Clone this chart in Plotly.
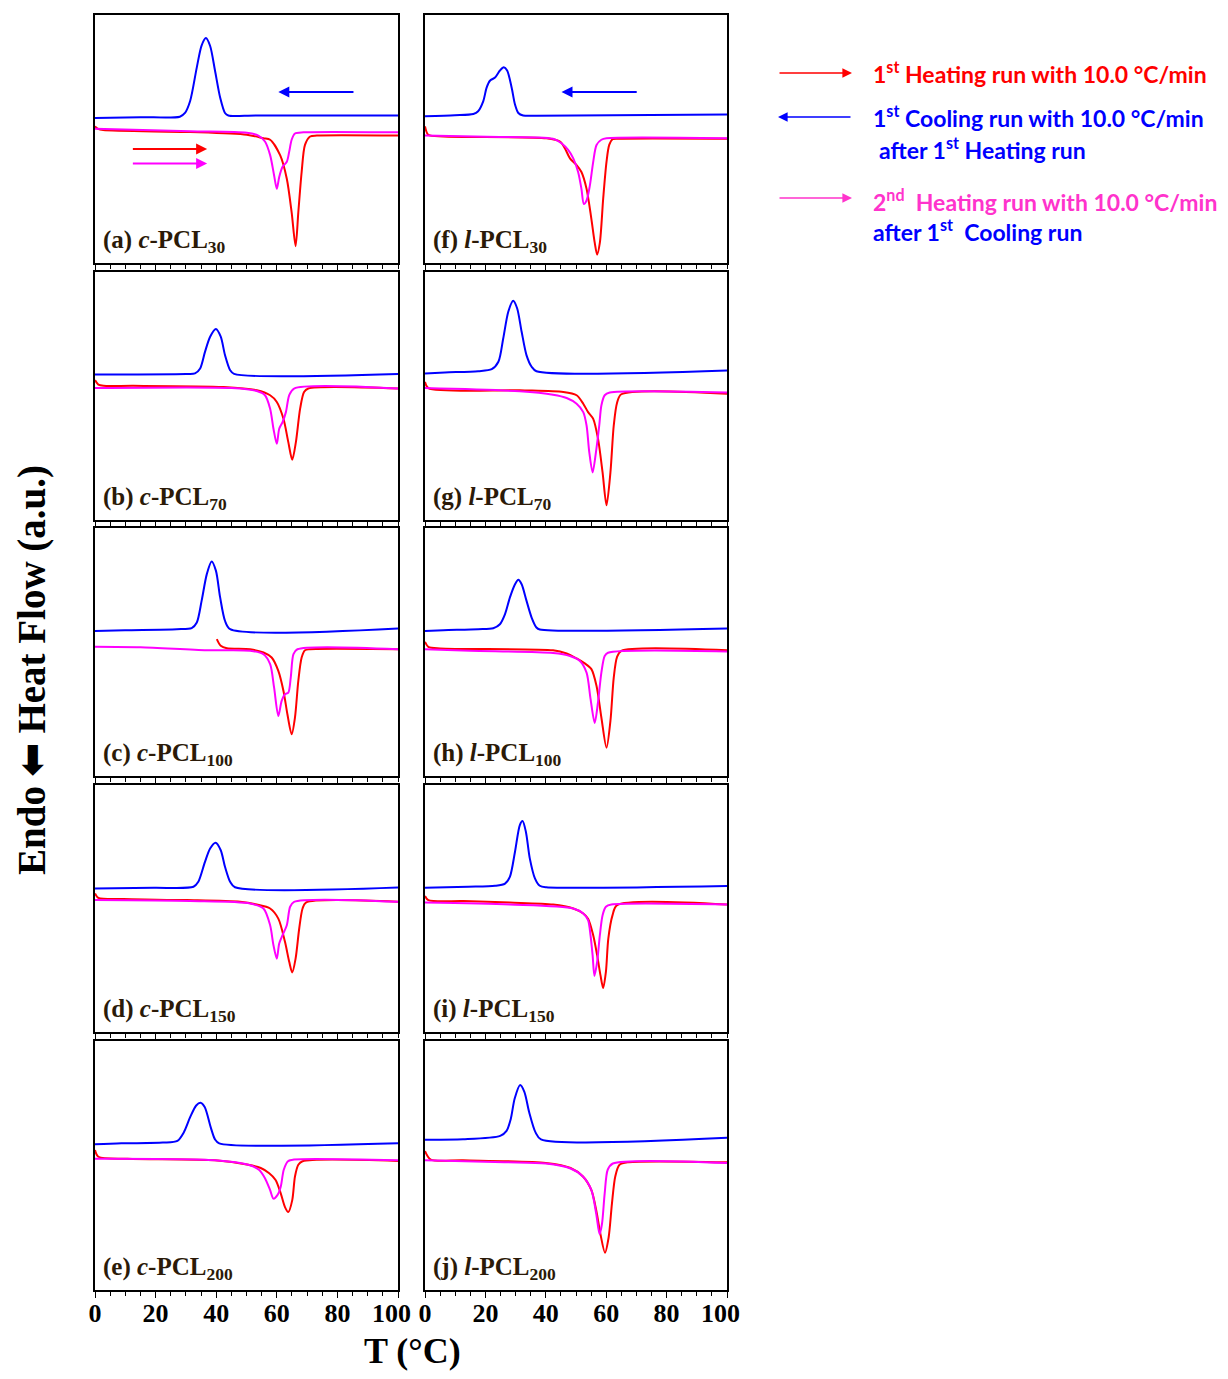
import plotly.graph_objects as go

# page body has an 8px margin; the figure is sized to fit the 1228x1379 window
OFF = 8
W, H = 1228 - 2 * OFF, 1379 - 2 * OFF

# ---------------- data (T in °C, heat flow in arbitrary units) ----------------
T_TICKS = [0, 20, 40, 60, 80, 100]
T_TICK_TEXT = ["0", "20", "40", "60", "80", ""]
T_LAST_LABEL = "100"

LABELS = [
    "(a) <i>c</i>-PCL<sub>30</sub>", "(b) <i>c</i>-PCL<sub>70</sub>",
    "(c) <i>c</i>-PCL<sub>100</sub>", "(d) <i>c</i>-PCL<sub>150</sub>",
    "(e) <i>c</i>-PCL<sub>200</sub>",
    "(f) <i>l</i>-PCL<sub>30</sub>", "(g) <i>l</i>-PCL<sub>70</sub>",
    "(h) <i>l</i>-PCL<sub>100</sub>", "(i) <i>l</i>-PCL<sub>150</sub>",
    "(j) <i>l</i>-PCL<sub>200</sub>",
]

A_COOL_T = [0, 15, 28, 29.7, 31.4, 33.6, 35.2, 36.6, 38, 39.6, 41.3, 42.9, 44, 53, 100]
A_COOL_Q = [58.5, 58.8, 59, 60.5, 65.3, 78.9, 87.8, 90.7, 87.5, 77.6, 66.7, 60.5, 59.5, 59.5, 59.5]
A_H1_T = [0, 1, 2.7, 31.4, 50.1, 55.6, 57.8, 61.1, 63.3, 64.9, 66.2, 67.1, 68.2, 69.3, 71, 73.2, 100]
A_H1_Q = [55.1, 54.1, 53.6, 52.8, 51.7, 50.3, 49.7, 43.5, 34, 20.4, 6.8, 20.4, 36.7, 47.6, 51, 51.4, 51.4]
A_H2_T = [0, 31.4, 50.1, 53.9, 56.1, 57.8, 59.1, 60, 60.8, 61.9, 63.3, 64.1, 64.9, 66, 68.8, 100]
A_H2_Q = [54.1, 53.1, 52.5, 51.4, 49, 43.5, 35.4, 29.9, 34.7, 38.8, 40.8, 44.9, 49.7, 52.2, 52.7, 52.7]

B_COOL_T = [0, 30, 33, 34.7, 36.3, 38, 39.9, 41.5, 42.9, 44.6, 45.9, 100]
B_COOL_Q = [58.7, 58.9, 59.1, 61.1, 67.8, 73.9, 77, 73.9, 66.5, 60.4, 58.9, 58.9]
B_H1_T = [0, 1.1, 2.8, 12.7, 42.4, 53.4, 57.8, 60, 62.2, 63.8, 65.1, 66.3, 67.7, 69, 70.4, 100]
B_H1_Q = [56.4, 54.6, 54.1, 54.1, 53.6, 52.3, 50.3, 47.6, 40.8, 31.4, 24.3, 31.4, 44.9, 51.6, 53, 53]
B_H2_T = [0, 45.1, 53.4, 56.1, 57.8, 58.9, 60, 60.8, 61.9, 63, 64.1, 65.7, 100]
B_H2_Q = [53.2, 53.2, 52, 50.3, 44.9, 36.8, 30.7, 36.8, 39.5, 43.5, 50.3, 53, 53]

C_COOL_T = [0, 9.9, 27, 31.9, 33.6, 35.2, 36.9, 38.5, 39.9, 41.3, 42.9, 44.6, 100]
C_COOL_Q = [58.5, 58.8, 59.2, 59.6, 61.9, 70.7, 81.4, 86.5, 82.8, 72, 62.6, 59.2, 59.5]
C_H1_T = [40.2, 41.5, 43.5, 51.2, 55.6, 58.3, 60.5, 62.2, 63.5, 64.9, 66, 67.1, 68.2, 69.3, 71, 100]
C_H1_Q = [55.2, 52.5, 51.5, 51.1, 49.8, 47.8, 42.4, 34.3, 24.9, 16.8, 23.6, 38.4, 47.8, 50.7, 51.1, 51.1]
C_H2_T = [0, 15, 36.9, 51.2, 55.6, 57.8, 59.1, 60.5, 61.6, 62.7, 63.8, 64.6, 65.5, 66.8, 100]
C_H2_Q = [52.1, 51.9, 50.7, 50.5, 49.1, 45.1, 35.7, 24.2, 30.3, 33, 33.6, 39.7, 49.1, 51.1, 51.1]

D_COOL_T = [0, 19.5, 32.5, 34.1, 36.3, 38, 39.8, 41.5, 42.9, 44.6, 46.2, 100]
D_COOL_Q = [58.1, 58.4, 58.8, 60.8, 68.9, 74.3, 76.6, 73.6, 66.9, 60.8, 58.6, 58.5]
D_H1_T = [0, 1.1, 9.4, 30.3, 47.9, 53.4, 57.8, 60.5, 62.7, 64.1, 65.1, 66.2, 67.4, 68.5, 69.6, 100]
D_H1_Q = [56.1, 54.3, 53.8, 53.4, 52.7, 51.6, 50, 45.9, 36.5, 28.4, 24.1, 29.7, 41.9, 50, 52.4, 52.7]
D_H2_T = [0, 31.4, 51.2, 55.6, 57.8, 58.9, 60, 60.8, 61.9, 63.3, 64.4, 65.7, 100]
D_H2_Q = [53.4, 53, 52, 50, 43.2, 35.1, 29.7, 35.8, 39.2, 43.2, 50.7, 52.7, 52.7]

E_COOL_T = [0, 8.7, 22.4, 27.2, 29.3, 31.4, 33.4, 34.8, 36.2, 38.2, 39.6, 41, 100]
E_COOL_Q = [58.5, 58.9, 59.2, 59.9, 63.3, 69.4, 74.1, 75.2, 73.5, 65.3, 60.5, 58.9, 58.9]
E_H1_T = [0, 1.1, 10.7, 39.6, 50.6, 54.7, 57.5, 59.6, 61.3, 62.7, 63.8, 65.1, 66, 67.1, 68.5, 100]
E_H1_Q = [56.2, 53.5, 52.7, 52.1, 50.3, 49, 46.9, 44.2, 38.8, 33.3, 31.3, 36.1, 45.6, 50.3, 51.7, 51.8]
E_H2_T = [0, 39.6, 50.6, 54.1, 56.1, 57.8, 58.9, 60.2, 61.3, 62.3, 63.7, 65.7, 100]
E_H2_Q = [52.7, 52.1, 50.3, 48.3, 44.9, 40.1, 36.7, 38.1, 41.5, 48.3, 51.7, 52.4, 52.1]

F_COOL_T = [0, 9.9, 16, 17.6, 19.3, 20.4, 21.5, 23.2, 24.8, 26.1, 27.2, 28.7, 29.8, 30.9, 32.5, 37, 100]
F_COOL_Q = [59.2, 59.6, 60.1, 61.2, 65.3, 70.7, 73.5, 74.8, 77.6, 78.9, 77.6, 70.7, 63.9, 60.5, 59.5, 59.4, 59.9]
F_H1_T = [0, 1.1, 6.1, 40.2, 44.7, 46.3, 48, 50.2, 51.8, 53.5, 55.1, 56.2, 57, 57.9, 59, 60.1, 61, 62.1, 64.5, 100]
F_H1_Q = [55.1, 51.7, 51, 50.3, 49, 46.3, 42.2, 39.5, 36.7, 29.9, 17.7, 8.2, 3.4, 8.2, 25.9, 40.8, 47.6, 49.9, 50.1, 50.1]
F_H2_T = [0, 20.4, 42.4, 45.2, 47.4, 49.1, 50.7, 51.8, 52.6, 53.5, 54.6, 55.7, 56.8, 58.4, 60.1, 100]
F_H2_Q = [51.4, 50.9, 50.1, 48.3, 45.6, 42.2, 36.7, 29.9, 23.8, 25.2, 31.3, 40.8, 47.6, 49.7, 50.3, 50.3]

G_COOL_T = [0, 6.6, 17.6, 22.1, 24.3, 25.9, 27.6, 29.2, 30.5, 32, 33.6, 35.3, 36.9, 100]
G_COOL_Q = [59.1, 59.5, 60, 60.8, 63.8, 73.2, 84.1, 88.4, 85.4, 75.9, 66.5, 61.8, 60, 60.3]
G_H1_T = [0, 1.1, 31.4, 45.8, 50.2, 52.4, 54, 55.7, 57.3, 58.8, 60.1, 61.4, 62.5, 63.6, 65, 100]
G_H1_Q = [55.7, 53.2, 52.3, 51.6, 50.3, 46.9, 43.5, 40.8, 32.7, 19.2, 5.9, 19.2, 38.1, 47.3, 50.7, 50.9]
G_H2_T = [0, 31.4, 42.4, 46.9, 50.2, 52.4, 53.5, 54.4, 55.5, 56.6, 57.7, 58.4, 59.5, 61.2, 100]
G_H2_Q = [53.2, 51.9, 50.5, 49.2, 46.9, 43.5, 38.1, 27.3, 19.2, 27.3, 38.1, 46.2, 50.3, 51.4, 51.4]

H_COOL_T = [0, 6.1, 17.6, 22.6, 24.8, 26.5, 28.1, 29.8, 30.9, 32, 33.6, 35.3, 36.9, 38, 100]
H_COOL_Q = [58.5, 58.8, 59.2, 59.6, 61.2, 65.3, 71.9, 77.3, 79.1, 77.3, 70.7, 63.9, 59.9, 59.1, 59.5]
H_H1_T = [0, 1.1, 5, 42.4, 46.9, 50.2, 52.9, 55.1, 56.8, 58.4, 60.1, 61.4, 62.5, 63.6, 65, 100]
H_H1_Q = [54.1, 52.1, 51.4, 50.7, 49.4, 47.4, 45.4, 43.1, 36.3, 23.6, 11.4, 22.2, 39.7, 48, 50.5, 50.7]
H_H2_T = [0, 14.9, 42.4, 48, 51.3, 53.5, 54.8, 56.2, 57.3, 58.4, 59.5, 60.6, 100]
H_H2_Q = [51.1, 50.5, 49.6, 48.4, 46.4, 41.7, 31.2, 21.4, 29.9, 41.7, 48.4, 49.7, 50.2]

I_COOL_T = [0, 14.3, 23.2, 26.5, 28.1, 29.8, 31.4, 32.3, 33.4, 34.7, 36.4, 38, 40.2, 100]
I_COOL_Q = [58.4, 58.8, 59.2, 60.1, 62.8, 73, 83.8, 85.4, 81.1, 70.3, 62.2, 59.2, 58.6, 59.1]
I_H1_T = [0, 1.1, 12.7, 28.1, 42.4, 49.1, 52.4, 54, 55.7, 57, 58.1, 59, 59.9, 60.7, 62.1, 63.6, 100]
I_H1_Q = [55.1, 53.4, 53, 52.4, 51.6, 50, 48, 45.9, 39.2, 31.1, 23, 17.8, 24.3, 37.8, 47.3, 51.4, 51.6]
I_H2_T = [0, 28.1, 49.1, 52.4, 54, 54.8, 55.5, 56.1, 57, 57.9, 58.8, 59.9, 61.7, 100]
I_H2_Q = [52.4, 51.6, 50, 48, 45.3, 39.2, 31.1, 22.7, 28.4, 39.2, 47.3, 50.7, 51.6, 51.6]

J_COOL_T = [0, 12.6, 24.9, 27, 28.4, 29.7, 31.5, 32.9, 34.5, 36.6, 38.4, 100]
J_COOL_Q = [60.3, 60.5, 61.9, 63.9, 68.7, 76.9, 82.3, 79.6, 71.4, 63.3, 60.5, 61.1]
J_H1_T = [0, 1.9, 12.6, 40, 48.2, 52.3, 55.1, 56.7, 58.1, 59.6, 60.8, 61.9, 63, 64.4, 67.4, 100]
J_H1_Q = [55.8, 52.4, 52.1, 51, 49, 45.6, 40.1, 32, 22.4, 15, 21.1, 34.7, 45.6, 50.3, 51.3, 51.3]
J_H2_T = [0, 26.3, 40, 48.2, 52.3, 55.1, 56.7, 57.8, 58.6, 59.5, 60.5, 62.2, 100]
J_H2_Q = [52.1, 51.3, 50.8, 48.8, 45.6, 40.1, 30.6, 22.4, 26.5, 38.8, 48.3, 50.8, 51]

PANELS = [
    (A_COOL_T, A_COOL_Q, A_H1_T, A_H1_Q, A_H2_T, A_H2_Q),
    (B_COOL_T, B_COOL_Q, B_H1_T, B_H1_Q, B_H2_T, B_H2_Q),
    (C_COOL_T, C_COOL_Q, C_H1_T, C_H1_Q, C_H2_T, C_H2_Q),
    (D_COOL_T, D_COOL_Q, D_H1_T, D_H1_Q, D_H2_T, D_H2_Q),
    (E_COOL_T, E_COOL_Q, E_H1_T, E_H1_Q, E_H2_T, E_H2_Q),
    (F_COOL_T, F_COOL_Q, F_H1_T, F_H1_Q, F_H2_T, F_H2_Q),
    (G_COOL_T, G_COOL_Q, G_H1_T, G_H1_Q, G_H2_T, G_H2_Q),
    (H_COOL_T, H_COOL_Q, H_H1_T, H_H1_Q, H_H2_T, H_H2_Q),
    (I_COOL_T, I_COOL_Q, I_H1_T, I_H1_Q, I_H2_T, I_H2_Q),
    (J_COOL_T, J_COOL_Q, J_H1_T, J_H1_Q, J_H2_T, J_H2_Q),
]

# ---------------- styling / layout ----------------
BLUE, RED, MAG = "#0000ff", "#ff0000", "#ff00ff"
LEG_MAG = "#ff33cc"
SERIF = "Liberation Serif"
SANS = "Lato"
TICK_FONT = dict(family=SERIF, size=26, color="black", weight="bold")

COL_PX = [(95, 398), (425, 727)]
ROW_PX = [(15, 263), (272, 520), (528, 776), (785, 1032), (1041, 1290)]


def px_x(px):
    return (px - OFF) / W


def px_y(py):
    return 1 - (py - OFF) / H


fig = go.Figure()
layout = dict(
    width=W, height=H, margin=dict(l=0, r=0, t=0, b=0, pad=0, autoexpand=False),
    paper_bgcolor="white", plot_bgcolor="white", showlegend=False,
)
annotations = []

for i, (ct, cq, h1t, h1q, h2t, h2q) in enumerate(PANELS):
    k = i + 1
    col, row = i // 5, i % 5
    xa, ya = f"x{k}", f"y{k}"
    line_kw = dict(shape="spline", smoothing=0.8, width=2)
    fig.add_trace(go.Scatter(x=ct, y=cq, mode="lines", line=dict(color=BLUE, **line_kw),
                             xaxis=xa, yaxis=ya, hoverinfo="skip"))
    fig.add_trace(go.Scatter(x=h1t, y=h1q, mode="lines", line=dict(color=RED, **line_kw),
                             xaxis=xa, yaxis=ya, hoverinfo="skip"))
    fig.add_trace(go.Scatter(x=h2t, y=h2q, mode="lines", line=dict(color=MAG, **line_kw),
                             xaxis=xa, yaxis=ya, hoverinfo="skip"))
    x0, x1 = COL_PX[col]
    y0, y1 = ROW_PX[row]
    layout[f"xaxis{k}"] = dict(
        domain=[px_x(x0), px_x(x1)], range=[0, 100], anchor=ya, automargin=False,
        showline=True, mirror=True, linecolor="black", linewidth=1.5,
        showgrid=False, zeroline=False,
        ticks="outside", tickmode="array", tickvals=T_TICKS, ticktext=T_TICK_TEXT,
        ticklen=6, tickwidth=1.2, tickcolor="black", ticklabelstandoff=-7,
        minor=dict(dtick=5, ticks="outside", ticklen=4, tickwidth=1, tickcolor="black", showgrid=False),
        showticklabels=(row == 4),
        tickfont=TICK_FONT,
        fixedrange=True,
    )
    layout[f"yaxis{k}"] = dict(
        domain=[px_y(y1), px_y(y0)], range=[0, 100], anchor=xa, automargin=False,
        showline=True, mirror=True, linecolor="black", linewidth=1.5,
        showgrid=False, zeroline=False, ticks="", showticklabels=False,
        fixedrange=True,
    )
    annotations.append(dict(
        xref=xa, yref=ya, x=2.0, y=1.8, xanchor="left", yanchor="bottom",
        text=LABELS[i], showarrow=False,
        font=dict(family=SERIF, size=25, color="#2b1a08", weight="bold"),
    ))
    if row == 4:
        # last tick label, nudged left as in the original
        annotations.append(dict(
            xref=xa, yref=f"{ya} domain", x=T_TICKS[-1], y=0, xanchor="center",
            yanchor="top", xshift=-7, yshift=-7, text=T_LAST_LABEL, showarrow=False,
            font=TICK_FONT,
        ))


# arrows inside panels (a) and (f)
def data_arrow(k, x_head, x_tail, y, color):
    return dict(xref=f"x{k}", yref=f"y{k}", axref=f"x{k}", ayref=f"y{k}",
                x=x_head, y=y, ax=x_tail, ay=y, text="", showarrow=True,
                arrowhead=2, arrowsize=1.1, arrowwidth=2, arrowcolor=color)


annotations += [
    data_arrow(1, 37, 12, 46, RED),
    data_arrow(1, 37, 12, 40.1, MAG),
    data_arrow(1, 60.5, 85.8, 69, BLUE),
    data_arrow(6, 45.2, 70.6, 69, BLUE),
]


# figure-level legend with arrows
def paper_arrow(x_head, x_tail, ypx, color):
    return dict(xref="paper", yref="paper", x=px_x(x_head), y=px_y(ypx),
                ax=x_tail - x_head, ay=0, text="", showarrow=True,
                arrowhead=2, arrowsize=1.2, arrowwidth=1.6, arrowcolor=color)


def paper_text(xpx, ypx, text, color):
    return dict(xref="paper", yref="paper", x=px_x(xpx), y=px_y(ypx),
                xanchor="left", yanchor="middle", text=text, showarrow=False,
                font=dict(family=SANS, size=23, color=color, weight="bold"))


annotations += [
    paper_arrow(852, 778, 73, RED),
    paper_arrow(778, 852, 117, BLUE),
    paper_arrow(852, 778, 198, LEG_MAG),
    paper_text(871, 72, "1<sup>st</sup> Heating run with 10.0 °C/min", RED),
    paper_text(871, 117, "1<sup>st</sup> Cooling run with 10.0 °C/min", BLUE),
    paper_text(877, 148, "after 1<sup>st</sup> Heating run", BLUE),
    paper_text(871, 200, "2<sup>nd</sup>  Heating run with 10.0 °C/min", LEG_MAG),
    paper_text(871, 231, "after 1<sup>st</sup>  Cooling run", BLUE),
]

# axis titles
annotations += [
    dict(xref="paper", yref="paper", x=px_x(32), y=px_y(670), textangle=-90,
         xanchor="center", yanchor="middle", showarrow=False,
         text="Endo ⬅ Heat Flow (a.u.)",
         font=dict(family=SERIF, size=39, color="black", weight="bold")),
    dict(xref="paper", yref="paper", x=px_x(412), y=px_y(1351),
         xanchor="center", yanchor="middle", showarrow=False,
         text="T (°C)", font=dict(family=SERIF, size=36, color="black", weight="bold")),
]

layout["annotations"] = annotations
fig.update_layout(**layout)
fig.write_html("out.html")
